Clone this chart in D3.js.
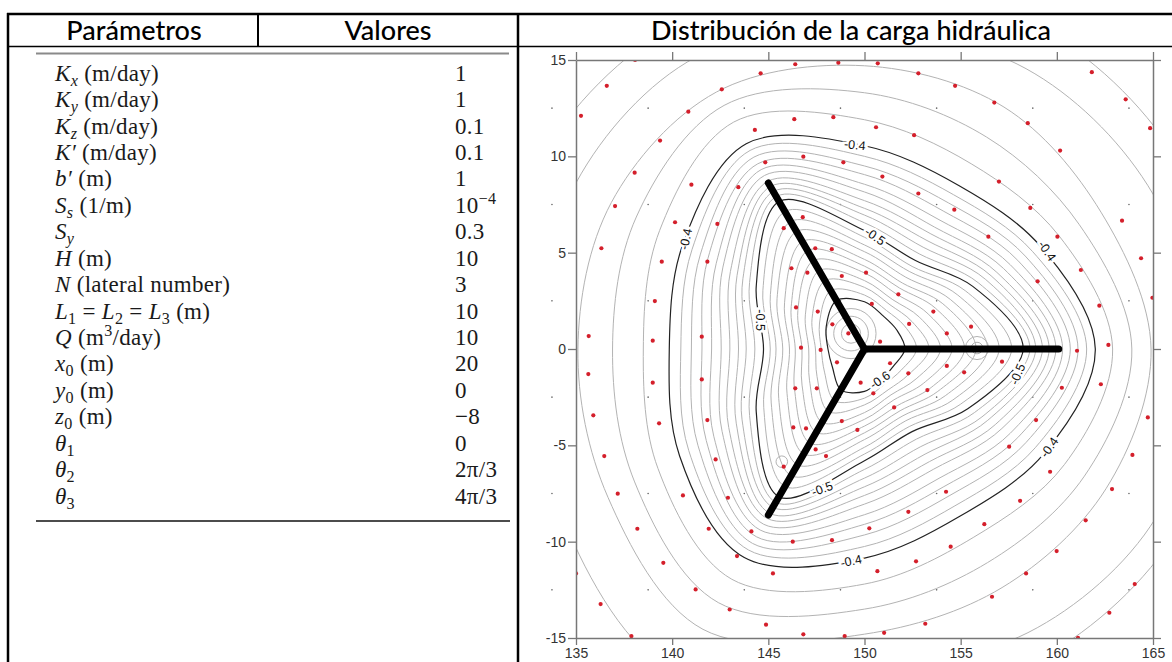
<!DOCTYPE html>
<html>
<head>
<meta charset="utf-8">
<script src="https://cdn.jsdelivr.net/npm/d3@7"></script>
<style>
  body { margin: 0; background: #fff; }
  text { white-space: pre; }
</style>
</head>
<body>
<div id="chart"></div>
<script>
// ---- table data ----
const paramNames = [
  [["K", "i"], ["x", "i sub"], [" (m/day)"]],
  [["K", "i"], ["y", "i sub"], [" (m/day)"]],
  [["K", "i"], ["z", "i sub"], [" (m/day)"]],
  [["K\u2032", "i"], [" (m/day)"]],
  [["b\u2032", "i"], [" (m)"]],
  [["S", "i"], ["s", "i sub"], [" (1/m)"]],
  [["S", "i"], ["y", "i sub"]],
  [["H", "i"], [" (m)"]],
  [["N", "i"], [" (lateral number)"]],
  [["L", "i"], ["1", "sub"], [" = "], ["L", "i"], ["2", "sub"], [" = "], ["L", "i"], ["3", "sub"], [" (m)"]],
  [["Q", "i"], [" (m"], ["3", "sup"], ["/day)"]],
  [["x", "i"], ["0", "sub"], [" (m)"]],
  [["y", "i"], ["0", "sub"], [" (m)"]],
  [["z", "i"], ["0", "sub"], [" (m)"]],
  [["\u03b8", "i"], ["1", "sub"]],
  [["\u03b8", "i"], ["2", "sub"]],
  [["\u03b8", "i"], ["3", "sub"]]
];
const paramValues = [
  [["1"]], [["1"]], [["0.1"]], [["0.1"]], [["1"]], [["10"], ["\u22124", "sup"]],
  [["0.3"]], [["10"]], [["3"]], [["10"]], [["10"]], [["20"]], [["0"]],
  [["\u22128"]], [["0"]], [["2\u03c0/3"]], [["4\u03c0/3"]]
];

// ---- plot data ----
const xTicks = [135, 140, 145, 150, 155, 160, 165];
const yTicks = [-15, -10, -5, 0, 5, 10, 15];
const wellCentre = [150, 0];
const lateralEnds = [[160.1, 0], [145.0, 8.62], [145.0, -8.62]];

// contour radii (m from the well centre) read at these angles (deg)
const contourAngles = [0, 30, 60, 90, 120, 150, 180, 210, 240, 270, 300, 330];
const contourLevels = [-0.35, -0.36, -0.37, -0.38, -0.39, -0.40, -0.41, -0.42, -0.43, -0.44,
  -0.45, -0.46, -0.47, -0.48, -0.49, -0.50, -0.51, -0.52, -0.53, -0.54, -0.55, -0.56,
  -0.57, -0.58, -0.59, -0.60];
const contourRadii = [
  [19.0, 19.0, 19.0, 19.0, 19.5, 19.5, 19.0, 20.5, 22.0, 18.5, 18.5, 18.8],
  [17.5, 17.0, 16.8, 16.6, 17.5, 17.3, 17.0, 18.0, 19.5, 16.5, 17.0, 17.5],
  [14.9, 14.2, 14.5, 14.7, 15.4, 15.2, 14.9, 15.4, 16.8, 14.8, 14.3, 14.5],
  [13.9, 12.9, 12.7, 13.3, 14.6, 13.7, 13.1, 13.8, 15.2, 13.5, 12.8, 13.2],
  [12.9, 11.7, 11.1, 11.9, 13.6, 12.3, 11.5, 12.4, 13.8, 12.2, 11.3, 12.0],
  [12.0, 10.6, 9.8, 10.55, 12.3, 10.9, 10.15, 11.1, 12.5, 10.85, 10.0, 10.8],
  [11.55, 10.1, 9.25, 10.0, 11.9, 10.35, 9.55, 10.55, 12.05, 10.25, 9.4, 10.25],
  [11.1, 9.65, 8.75, 9.5, 11.5, 9.85, 9.0, 10.0, 11.65, 9.65, 8.8, 9.7],
  [10.7, 9.2, 8.25, 9.05, 11.1, 9.4, 8.45, 9.5, 11.25, 9.1, 8.25, 9.2],
  [10.3, 8.75, 7.75, 8.55, 10.75, 8.9, 7.95, 9.05, 10.85, 8.6, 7.75, 8.75],
  [9.95, 8.35, 7.3, 8.15, 10.4, 8.5, 7.45, 8.55, 10.5, 8.05, 7.2, 8.25],
  [9.6, 7.95, 6.9, 7.7, 10.05, 8.05, 7.0, 8.15, 10.15, 7.6, 6.75, 7.85],
  [9.25, 7.6, 6.5, 7.3, 9.75, 7.65, 6.55, 7.7, 9.85, 7.15, 6.3, 7.4],
  [8.9, 7.25, 6.1, 6.95, 9.45, 7.3, 6.15, 7.35, 9.5, 6.7, 5.85, 7.05],
  [8.6, 6.85, 5.7, 6.55, 9.15, 6.9, 5.7, 6.9, 9.2, 6.25, 5.4, 6.6],
  [8.25, 6.5, 5.3, 6.15, 8.85, 6.5, 5.25, 6.5, 8.87, 5.8, 4.95, 6.2],
  [7.65, 6.05, 4.95, 5.8, 8.25, 6.1, 4.9, 6.05, 8.25, 5.45, 4.65, 5.75],
  [7.0, 5.6, 4.65, 5.4, 7.65, 5.65, 4.6, 5.6, 7.6, 5.1, 4.3, 5.3],
  [6.4, 5.15, 4.3, 5.05, 7.05, 5.25, 4.25, 5.15, 6.95, 4.7, 4.0, 4.85],
  [5.8, 4.7, 3.95, 4.65, 6.45, 4.8, 3.9, 4.65, 6.3, 4.35, 3.7, 4.4],
  [5.2, 4.25, 3.65, 4.3, 5.9, 4.4, 3.6, 4.2, 5.65, 4.0, 3.4, 4.0],
  [4.55, 3.75, 3.3, 3.95, 5.3, 4.0, 3.25, 3.75, 5.0, 3.65, 3.05, 3.55],
  [3.95, 3.3, 2.95, 3.55, 4.7, 3.55, 2.9, 3.3, 4.4, 3.3, 2.75, 3.1],
  [3.35, 2.85, 2.65, 3.2, 4.1, 3.15, 2.55, 2.85, 3.75, 2.9, 2.45, 2.65],
  [2.7, 2.4, 2.3, 2.8, 3.5, 2.7, 2.25, 2.4, 3.1, 2.55, 2.1, 2.2],
  [2.1, 1.95, 1.97, 2.45, 2.9, 2.3, 1.9, 1.92, 2.45, 2.2, 1.8, 1.75]
];
const majorLevels = [-0.4, -0.5, -0.6];

// small closed loops: [x, y, radius]
const smallLoops = [
  [149.3, 0.8, 1.3], [149.3, 0.8, 0.9], [149.3, 0.8, 0.5],
  [155.85, 0.05, 0.6], [155.85, 0.05, 0.3], [145.7, -5.85, 0.3]
];

const contourLabels = [
  ["-0.4", 149.5, 10.6, 6], ["-0.4", 140.7, 5.7, -78], ["-0.5", 150.55, 5.85, 35],
  ["-0.4", 159.5, 5.1, 55], ["-0.5", 144.6, 1.5, 90], ["-0.6", 150.8, -1.6, -35],
  ["-0.5", 157.95, -1.3, -68], ["-0.4", 159.6, -5.1, -55], ["-0.4", 149.3, -11.0, -12],
  ["-0.5", 147.8, -7.25, -20]
];

// sampling points (red)
const samplePoints = [
  [138.07, 15.0], [136.6, 13.66], [135.26, 12.1], [142.58, 13.48], [140.84, 12.32], [144.6, 14.31],
  [146.4, 14.78], [148.64, 14.86], [139.37, 10.82], [144.3, 11.37], [146.35, 11.93], [148.38, 12.03],
  [138.05, 9.15], [141.0, 8.53], [143.44, 8.4], [144.84, 9.69], [146.82, 9.98], [148.9, 9.69],
  [137.03, 7.42], [140.15, 6.58], [142.35, 6.49], [145.8, 6.27], [146.79, 6.84], [136.32, 5.23],
  [139.46, 4.53], [141.83, 4.53], [147.44, 5.23], [148.3, 5.18], [146.2, 4.19], [147.03, 3.96],
  [148.82, 3.79], [139.1, 2.49], [146.44, 2.16], [147.57, 1.94], [148.33, 1.28], [149.16, 0.81],
  [135.66, 0.67], [138.99, 0.43], [141.54, 0.64],
  [150.69, 14.83], [152.8, 14.31], [154.71, 13.66], [156.75, 12.79], [158.49, 11.72], [160.17, 10.3],
  [161.82, 14.37], [163.58, 12.96], [164.85, 11.46], [150.6, 11.51], [152.58, 11.1], [150.93, 8.95],
  [152.8, 8.07], [154.67, 7.23], [156.99, 8.69], [158.62, 7.32], [156.44, 5.83], [160.03, 5.83],
  [163.39, 6.66], [164.38, 4.71], [150.08, 3.96], [151.76, 2.84], [150.38, 2.34], [153.58, 1.94],
  [152.32, 1.3], [154.28, 0.81], [155.54, 1.16], [150.81, 0.38], [161.25, 4.1], [162.21, 2.25],
  [164.97, 2.66], [159.0, 3.51], [161.05, -0.09], [162.68, 0.21],
  [151.33, -0.74], [152.28, -1.26], [154.28, -0.88], [155.18, -1.21], [157.15, -0.66], [149.8, -1.75],
  [150.46, -2.3], [153.27, -2.13], [160.26, -2.01], [162.29, -1.83], [151.54, -3.03], [148.82, -3.74],
  [149.63, -4.2], [158.92, -3.69], [164.73, -3.55], [157.52, -5.07], [163.93, -5.5], [159.65, -6.37],
  [154.24, -7.41], [158.09, -7.88], [162.87, -7.27], [152.28, -8.45], [150.25, -9.31], [156.23, -9.09],
  [161.5, -8.89], [159.99, -10.49], [154.48, -10.26], [152.68, -11.02], [150.67, -11.53], [158.4, -11.65],
  [164.05, -12.2], [156.63, -12.86], [153.16, -14.26], [151.02, -14.73], [148.97, -14.9], [162.73, -13.69],
  [161.1, -14.99],
  [146.7, 0.07], [147.72, -0.05], [148.57, -0.69], [135.64, -1.3], [138.99, -1.75], [141.54, -1.58],
  [146.4, -2.04], [147.52, -2.04], [135.9, -3.44], [139.32, -3.86], [141.83, -3.69], [146.3, -4.07],
  [146.96, -4.12], [147.46, -5.21], [148.0, -5.56], [136.47, -5.56], [142.26, -5.73], [145.8, -6.11],
  [137.17, -7.51], [140.56, -7.6], [142.9, -7.72], [138.19, -9.33], [141.9, -9.33], [144.12, -9.47],
  [146.27, -10.0], [148.31, -9.92], [139.54, -11.1], [143.37, -10.75], [135.0, -11.65], [145.24, -11.65],
  [141.22, -12.48], [136.28, -13.24], [142.99, -13.52], [144.88, -14.31], [146.82, -14.81], [137.88, -14.9]
];

// faint marker dots of the original grid
const markerX = [133.75, 138.75, 143.75, 148.75, 153.75, 158.75, 163.75];
const markerY = [12.5, 7.5, 2.5, -2.5, -7.5, -12.5];

// ---- drawing ----
const W = 1172, H = 662;
const svg = d3.select("#chart").append("svg")
  .attr("width", W).attr("height", H)
  .style("font-family", "'Liberation Sans', Arial, sans-serif");

// table frame
const frame = svg.append("g").attr("stroke", "#000").attr("fill", "none");
frame.append("line").attr("x1", 7).attr("x2", W).attr("y1", 14).attr("y2", 14).attr("stroke-width", 2.5);
frame.append("line").attr("x1", 7).attr("x2", W).attr("y1", 46.5).attr("y2", 46.5).attr("stroke-width", 1.6);
frame.append("line").attr("x1", 8).attr("x2", 8).attr("y1", 13).attr("y2", H).attr("stroke-width", 2.5);
frame.append("line").attr("x1", 258).attr("x2", 258).attr("y1", 14).attr("y2", 46).attr("stroke-width", 2);
frame.append("line").attr("x1", 518).attr("x2", 518).attr("y1", 13).attr("y2", H).attr("stroke-width", 2.5);

const headers = [["Parámetros", 134], ["Valores", 388], ["Distribución de la carga hidráulica", 851]];
svg.append("g").selectAll("text").data(headers).join("text")
  .attr("x", d => d[1]).attr("y", 40)
  .attr("text-anchor", "middle")
  .style("font-family", "Lato, 'Open Sans', sans-serif")
  .style("font-size", "27px")
  .style("font-weight", 500)
  .style("fill", "#000")
  .text(d => d[0]);

// parameter table
svg.append("line").attr("x1", 36).attr("x2", 509).attr("y1", 53.5).attr("y2", 53.5)
  .attr("stroke", "#8a8a8a").attr("stroke-width", 2.2);
svg.append("line").attr("x1", 36).attr("x2", 510).attr("y1", 521).attr("y2", 521)
  .attr("stroke", "#111").attr("stroke-width", 1.5);

const rowY = d3.scaleLinear().domain([0, paramNames.length - 1]).range([80.7, 503.5]);
const fs = 23;

function rich(sel, segs) {
  let shift = 0;
  segs.forEach(([s, st = ""]) => {
    const flags = st.split(" ");
    const sub = flags.includes("sub"), sup = flags.includes("sup");
    const target = sub ? fs * 0.22 : sup ? -fs * 0.4 : 0;
    sel.append("tspan").text(s)
      .attr("dy", target - shift)
      .style("font-size", (sub || sup) ? (fs * 0.7) + "px" : fs + "px")
      .style("font-style", flags.includes("i") ? "italic" : "normal");
    shift = target;
  });
}

const tbl = svg.append("g")
  .style("font-family", "'Liberation Serif', 'Times New Roman', serif")
  .style("fill", "#1a1a1a")
  .style("letter-spacing", "0.3px");
paramNames.forEach((segs, i) => {
  rich(tbl.append("text").attr("x", 55).attr("y", rowY(i)), segs);
});
paramValues.forEach((segs, i) => {
  rich(tbl.append("text").attr("x", 455).attr("y", rowY(i)), segs);
});

// contour plot
const x = d3.scaleLinear().domain([135, 165]).range([576, 1153]);
const y = d3.scaleLinear().domain([-15, 15]).range([638, 60]);

const plot = svg.append("g");
plot.append("clipPath").attr("id", "clip")
  .append("rect").attr("x", 576).attr("y", 60).attr("width", 577).attr("height", 578);

// faint grid markers
const markers = d3.cross(markerX, markerY);
plot.append("g").selectAll("circle").data(markers).join("circle")
  .attr("cx", d => x(d[0])).attr("cy", d => y(d[1])).attr("r", 0.8)
  .attr("fill", "#666");

const contourLine = d3.line()
  .x(d => x(d[0])).y(d => y(d[1]))
  .curve(d3.curveCatmullRomClosed.alpha(0.5));

const toPoints = radii => radii.map((r, k) => {
  const a = contourAngles[k] * Math.PI / 180;
  return [wellCentre[0] + r * Math.cos(a), wellCentre[1] + r * Math.sin(a)];
});

const cg = plot.append("g").attr("clip-path", "url(#clip)").attr("fill", "none");
const contourData = contourLevels.map((lv, i) => ({ level: lv, pts: toPoints(contourRadii[i]) }));
const isMajor = lv => majorLevels.some(m => Math.abs(m - lv) < 1e-6);

cg.selectAll("path.minor").data(contourData.filter(d => !isMajor(d.level))).join("path")
  .attr("class", "minor")
  .attr("d", d => contourLine(d.pts))
  .attr("stroke", "#b3b3b3").attr("stroke-width", 1);

cg.selectAll("ellipse").data(smallLoops).join("ellipse")
  .attr("cx", d => x(d[0])).attr("cy", d => y(d[1]))
  .attr("rx", d => x(d[0] + d[2]) - x(d[0]))
  .attr("ry", d => y(d[1]) - y(d[1] + d[2]))
  .attr("stroke", "#b3b3b3").attr("stroke-width", 1);

cg.selectAll("path.major").data(contourData.filter(d => isMajor(d.level))).join("path")
  .attr("class", "major")
  .attr("d", d => contourLine(d.pts))
  .attr("stroke", "#222").attr("stroke-width", 1.2);

// contour labels
plot.append("g").selectAll("text").data(contourLabels).join("text")
  .attr("transform", d => `translate(${x(d[1])},${y(d[2])}) rotate(${d[3]})`)
  .attr("text-anchor", "middle").attr("dy", "0.35em")
  .style("font-size", "12.5px")
  .style("fill", "#111")
  .style("stroke", "#fff").style("stroke-width", 5).style("paint-order", "stroke")
  .text(d => d[0]);

// sampling points
plot.append("g").attr("clip-path", "url(#clip)")
  .selectAll("circle").data(samplePoints).join("circle")
  .attr("cx", d => x(d[0])).attr("cy", d => y(d[1])).attr("r", 2.1)
  .attr("fill", "#d41f2b");

// lateral arms
plot.append("g").selectAll("line").data(lateralEnds).join("line")
  .attr("x1", x(wellCentre[0])).attr("y1", y(wellCentre[1]))
  .attr("x2", d => x(d[0])).attr("y2", d => y(d[1]))
  .attr("stroke", "#000").attr("stroke-width", 7).attr("stroke-linecap", "round");

// axes
const fmt = d => String(d);
const axisStyle = g => {
  g.select(".domain").attr("stroke", "#777").attr("stroke-width", 1.5);
  g.selectAll(".tick line").attr("stroke", "#777").attr("stroke-width", 1.3);
  g.selectAll(".tick text").style("font-size", "14px").style("fill", "#333")
    .style("font-family", "'Liberation Sans', Arial, sans-serif");
};
svg.append("g").attr("transform", "translate(0,638)")
  .call(d3.axisBottom(x).tickValues(xTicks).tickFormat(fmt).tickSize(7).tickSizeOuter(0).tickPadding(3))
  .call(axisStyle);
svg.append("g").attr("transform", "translate(0,60)")
  .call(d3.axisTop(x).tickValues(xTicks).tickFormat("").tickSize(8).tickSizeOuter(0))
  .call(axisStyle);
svg.append("g").attr("transform", "translate(576,0)")
  .call(d3.axisLeft(y).tickValues(yTicks).tickFormat(fmt).tickSize(8).tickSizeOuter(0).tickPadding(2))
  .call(axisStyle);
svg.append("g").attr("transform", "translate(1153,0)")
  .call(d3.axisRight(y).tickValues(yTicks).tickFormat("").tickSize(8).tickSizeOuter(0))
  .call(axisStyle);
</script>
</body>
</html>
